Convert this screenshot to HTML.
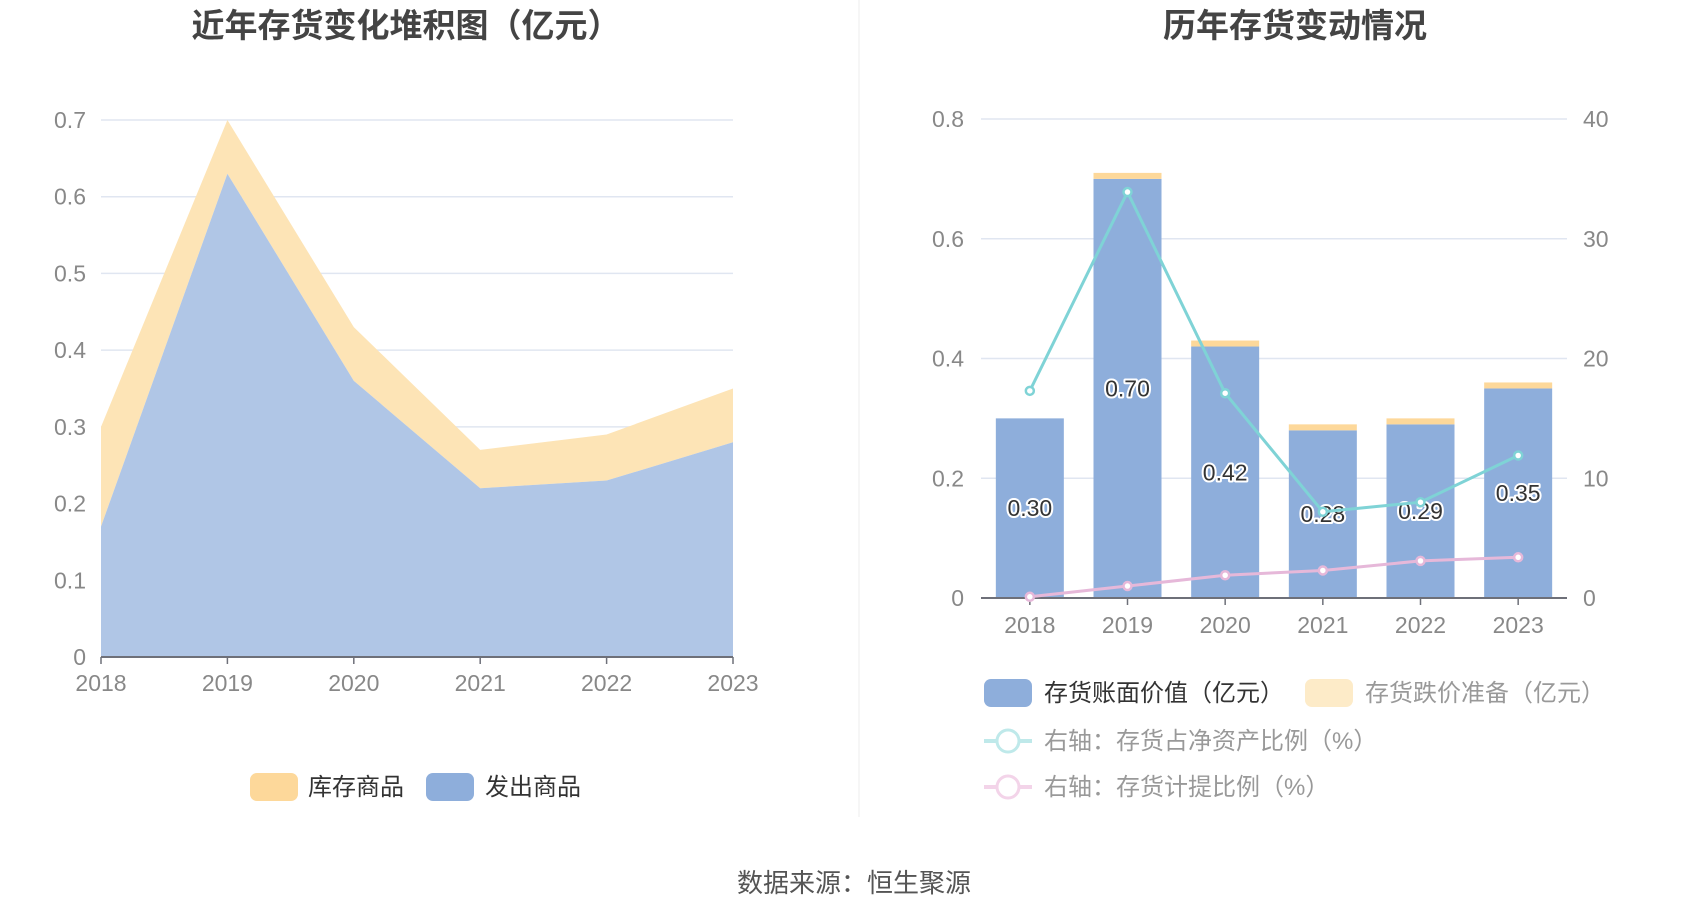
<!DOCTYPE html>
<html><head><meta charset="utf-8">
<style>
html,body{margin:0;padding:0;background:#fff;}
svg text{font-family:"Liberation Sans","Noto Sans CJK SC",sans-serif;}
</style></head>
<body>
<svg id="c" width="1700" height="918" viewBox="0 0 1700 918" xmlns="http://www.w3.org/2000/svg">
<text x="406" y="37" text-anchor="middle" font-size="33" font-weight="bold" fill="#444">近年存货变化堆积图（亿元）</text>
<text x="1295" y="37" text-anchor="middle" font-size="33" font-weight="bold" fill="#444">历年存货变动情况</text>
<line x1="859" y1="0" x2="859" y2="817" stroke="#eee" stroke-width="1"/>
<g id="left"></g>
<g id="right"></g>
<g>
  <rect x="250" y="773" width="48" height="28" rx="7" fill="#fdd89a"/>
  <text x="308" y="795" font-size="24" fill="#333">库存商品</text>
  <rect x="426" y="773" width="48" height="28" rx="7" fill="#8eaedb"/>
  <text x="485" y="795" font-size="24" fill="#333">发出商品</text>
</g>
<g>
  <rect x="984" y="679" width="48" height="28" rx="7" fill="#8eaedb"/>
  <text x="1044" y="701" font-size="24" fill="#333">存货账面价值（亿元）</text>
  <rect x="1305" y="679" width="48" height="28" rx="7" fill="#fdebc8"/>
  <text x="1365" y="701" font-size="24" fill="#999">存货跌价准备（亿元）</text>
  <line x1="984" y1="741" x2="1032" y2="741" stroke="#bfe9ea" stroke-width="4"/>
  <circle cx="1008" cy="741" r="11" fill="#fff" stroke="#bfe9ea" stroke-width="3"/>
  <text x="1044" y="749" font-size="24" fill="#999">右轴：存货占净资产比例（%）</text>
  <line x1="984" y1="787" x2="1032" y2="787" stroke="#f3d4e9" stroke-width="4"/>
  <circle cx="1008" cy="787" r="11" fill="#fff" stroke="#f3d4e9" stroke-width="3"/>
  <text x="1044" y="795" font-size="24" fill="#999">右轴：存货计提比例（%）</text>
</g>
<text x="854" y="892" text-anchor="middle" font-size="26" fill="#555">数据来源：恒生聚源</text>
</svg>
<script>
const years = ["2018","2019","2020","2021","2022","2023"];
const shippedGoods = [0.17,0.63,0.36,0.22,0.23,0.28];
const stockGoods = [0.13,0.07,0.07,0.05,0.06,0.07];
const leftTicks = [0,0.1,0.2,0.3,0.4,0.5,0.6,0.7];
const bookValue = [0.30,0.70,0.42,0.28,0.29,0.35];
const provision = [0.00,0.01,0.01,0.01,0.01,0.01];
const netAssetRatio = [17.3,33.9,17.1,7.2,8.0,11.9];
const provisionRatio = [0.1,1.0,1.9,2.3,3.1,3.4];
const rightLeftTicks = [0,0.2,0.4,0.6,0.8];
const rightRightTicks = [0,10,20,30,40];

const NS="http://www.w3.org/2000/svg";
function mk(parent,tag,attrs){const e=document.createElementNS(NS,tag);for(const k in attrs)e.setAttribute(k,attrs[k]);parent.appendChild(e);return e;}
function fmt(v){return Number.isInteger(v)?String(v):String(v);}

// LEFT
(function(){
  const g=document.getElementById('left');
  const x0=101,x1=733,yb=657,yt=120,max=0.7;
  const X=i=>x0+(x1-x0)*i/(years.length-1);
  const Y=v=>yb-(yb-yt)*v/max;
  leftTicks.forEach(t=>{
    const l=mk(g,'line',{x1:x0,x2:x1,y1:Y(t),y2:Y(t),stroke:'#e0e6f1','stroke-width':1.5});
    
    
    const tx=mk(g,'text',{x:86,y:Y(t)+8,'text-anchor':'end','font-size':23,fill:'#888'});
    tx.textContent=fmt(t);
    
    
  });
  const tot=shippedGoods.map((v,i)=>v+stockGoods[i]);
  let top=years.map((_,i)=>X(i)+','+Y(tot[i])).join(' ');
  let mid=years.map((_,i)=>X(i)+','+Y(shippedGoods[i]));
  const a1=mk(g,'polygon',{points:top+' '+mid.slice().reverse().join(' '),fill:'#fde4b6'});
  
  
  const a2=mk(g,'polygon',{points:mid.join(' ')+' '+X(years.length-1)+','+yb+' '+X(0)+','+yb,fill:'#b0c6e6'});
  
  
  const ax=mk(g,'line',{x1:x0,x2:x1,y1:yb,y2:yb,stroke:'#6e7079','stroke-width':2});
  
  
  years.forEach((y,i)=>{
    const t=mk(g,'line',{x1:X(i),x2:X(i),y1:yb,y2:yb+7,stroke:'#6e7079','stroke-width':1.5});
    
    
    const tx=mk(g,'text',{x:X(i),y:yb+34,'text-anchor':'middle','font-size':23,fill:'#888'});
    tx.textContent=y;
    
    
  });
})();

// RIGHT
(function(){
  const g=document.getElementById('right');
  const x0=981,x1=1567,yb=598,yt=119,max=0.8,rmax=40;
  const step=(x1-x0)/years.length;
  const X=i=>x0+step*(i+0.5);
  const Y=v=>yb-(yb-yt)*v/max;
  const YR=v=>yb-(yb-yt)*v/rmax;
  const bw=68;
  rightLeftTicks.forEach((t,k)=>{
    const l=mk(g,'line',{x1:x0,x2:x1,y1:Y(t),y2:Y(t),stroke:'#e0e6f1','stroke-width':1.5});
    
    
    const tx=mk(g,'text',{x:964,y:Y(t)+8,'text-anchor':'end','font-size':23,fill:'#888'});
    tx.textContent=fmt(t);
    
    
  });
  rightRightTicks.forEach(t=>{
    const tx=mk(g,'text',{x:1583,y:YR(t)+8,'text-anchor':'start','font-size':23,fill:'#888'});
    tx.textContent=String(t);
    
    
  });
  years.forEach((y,i)=>{
    const b=mk(g,'rect',{x:X(i)-bw/2,y:Y(bookValue[i]),width:bw,height:yb-Y(bookValue[i]),fill:'#8eaedb'});
    
    
    if(provision[i]>0){
      const p=mk(g,'rect',{x:X(i)-bw/2,y:Y(bookValue[i]+provision[i]),width:bw,height:Y(bookValue[i])-Y(bookValue[i]+provision[i]),fill:'#fdd89a'});
      
      
    }
  });
  const ax=mk(g,'line',{x1:x0,x2:x1,y1:yb,y2:yb,stroke:'#6e7079','stroke-width':2});
  
  
  years.forEach((y,i)=>{
    const t=mk(g,'line',{x1:X(i),x2:X(i),y1:yb,y2:yb+7,stroke:'#6e7079','stroke-width':1.5});
    
    
    const tx=mk(g,'text',{x:X(i),y:yb+35,'text-anchor':'middle','font-size':23,fill:'#888'});
    tx.textContent=y;
    
    
  });
  // labels
  years.forEach((y,i)=>{
    const tx=mk(g,'text',{x:X(i),y:(Y(bookValue[i])+yb)/2+8,'text-anchor':'middle','font-size':23,fill:'#333',stroke:'#fff','stroke-width':4,'paint-order':'stroke','stroke-linejoin':'round'});
    tx.textContent=bookValue[i].toFixed(2);
    
    
  });
  function line(arr,color,name){
    const pl=mk(g,'polyline',{points:arr.map((v,i)=>X(i)+','+YR(v)).join(' '),fill:'none',stroke:color,'stroke-width':3});
    
    
    arr.forEach((v,i)=>{
      const c=mk(g,'circle',{cx:X(i),cy:YR(v),r:4,fill:'#fff',stroke:color,'stroke-width':2.5});
      
      
    });
  }
  line(netAssetRatio,'#7fd3d6','net-asset-ratio');
  line(provisionRatio,'#e6b8d9','provision-ratio');
})();
</script>
</body></html>
